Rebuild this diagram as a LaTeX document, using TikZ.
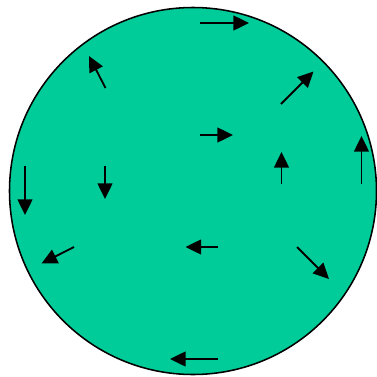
\documentclass[tikz,border=0pt]{standalone}
\usepackage{xcolor}
\usepackage{tikz}
\usetikzlibrary{arrows.meta}
\definecolor{cellgreen}{RGB}{0,204,153}

\begin{document}
\begin{tikzpicture}[
  x=0.5mm, y=-0.5mm,
  disc/.style={circle, draw=black, fill=cellgreen, line width=2.2pt, minimum size=183.5mm, inner sep=0pt},
  flow/.style={-{Triangle[length=7.8mm, width=7.4mm]}, line width=2.6pt, draw=black},
]
\useasboundingbox (0,0) rectangle (377,377);
\node[disc] (cell) at (193,191) {};
% outer ring
\draw[flow] (200,23) -- (249,23);
\draw[flow] (105.5,88) -- (89,56);
\draw[flow] (281,104) -- (313.5,71.5);
\draw[flow] (361.5,184) -- (361.5,136);
\draw[flow] (297,247) -- (329,279);
\draw[flow] (218,359) -- (170,359);
\draw[flow] (74,247) -- (41.5,263.5);
\draw[flow] (25,166) -- (25,215);
% inner ring
\draw[flow] (200,135) -- (233,135);
\draw[flow] (281.5,184) -- (281.5,152);
\draw[flow] (218,247) -- (185.5,247);
\draw[flow] (105,166) -- (105,199);
\end{tikzpicture}
\end{document}
